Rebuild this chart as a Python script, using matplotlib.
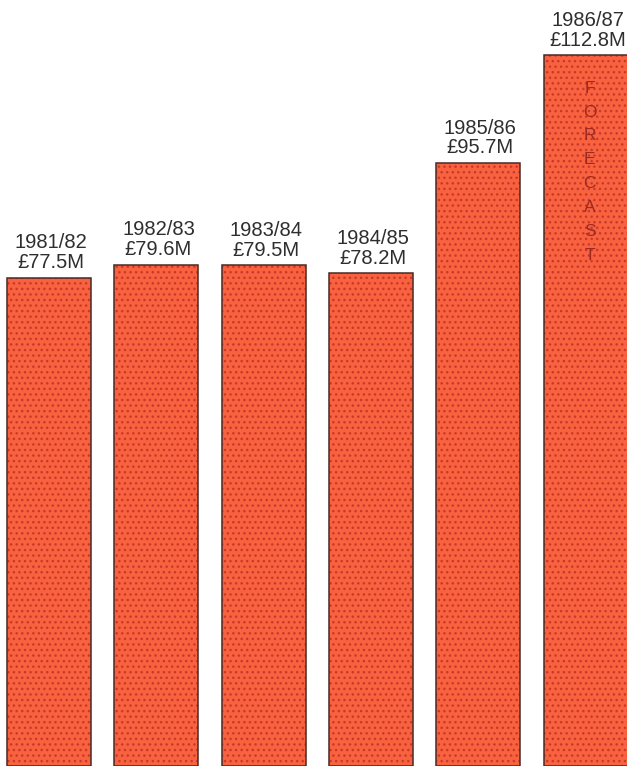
import matplotlib.pyplot as plt
import numpy as np

plt.rcParams["font.family"] = ["Liberation Sans", "DejaVu Sans"]
plt.rcParams["hatch.linewidth"] = 1.0

years = ["1981/82", "1982/83", "1983/84", "1984/85", "1985/86", "1986/87"]
income = [77.5, 79.6, 79.5, 78.2, 95.7, 112.8]

fill_color = "#f9623f"
dot_color = "#c8392c"
edge_color = "#4a2a26"
text_color = "#2e2e2e"

fig = plt.figure(figsize=(6.27, 7.66), dpi=100)
ax = fig.add_axes([0, 0, 1, 1])

x = np.arange(len(years))
width = 0.783

# base fill, halftone dots, then outline
ax.bar(x, income, width=width, color=fill_color, linewidth=0, zorder=1)
ax.bar(x, income, width=width, fill=False, hatch="...", edgecolor=dot_color,
       linewidth=0, zorder=2)
ax.bar(x, income, width=width, fill=False, edgecolor=edge_color,
       linewidth=1.1, zorder=3)

for xi, year, val in zip(x, years, income):
    ax.text(xi + 0.02, val + 0.9, f"{year}\n£{val:.1f}M", ha="center",
            va="bottom", fontsize=14.5, color=text_color, linespacing=1.05)

ax.text(x[-1] + 0.04, income[-1] - 4.0, "\n".join("FORECAST"), ha="center",
        va="top", fontsize=12.5, color="#9a2a22", linespacing=1.74, zorder=4)

ax.set_xlim(-0.457, 5.386)
ax.set_ylim(0, 121.6)
ax.axis("off")

fig.savefig("out.png", dpi=100)
